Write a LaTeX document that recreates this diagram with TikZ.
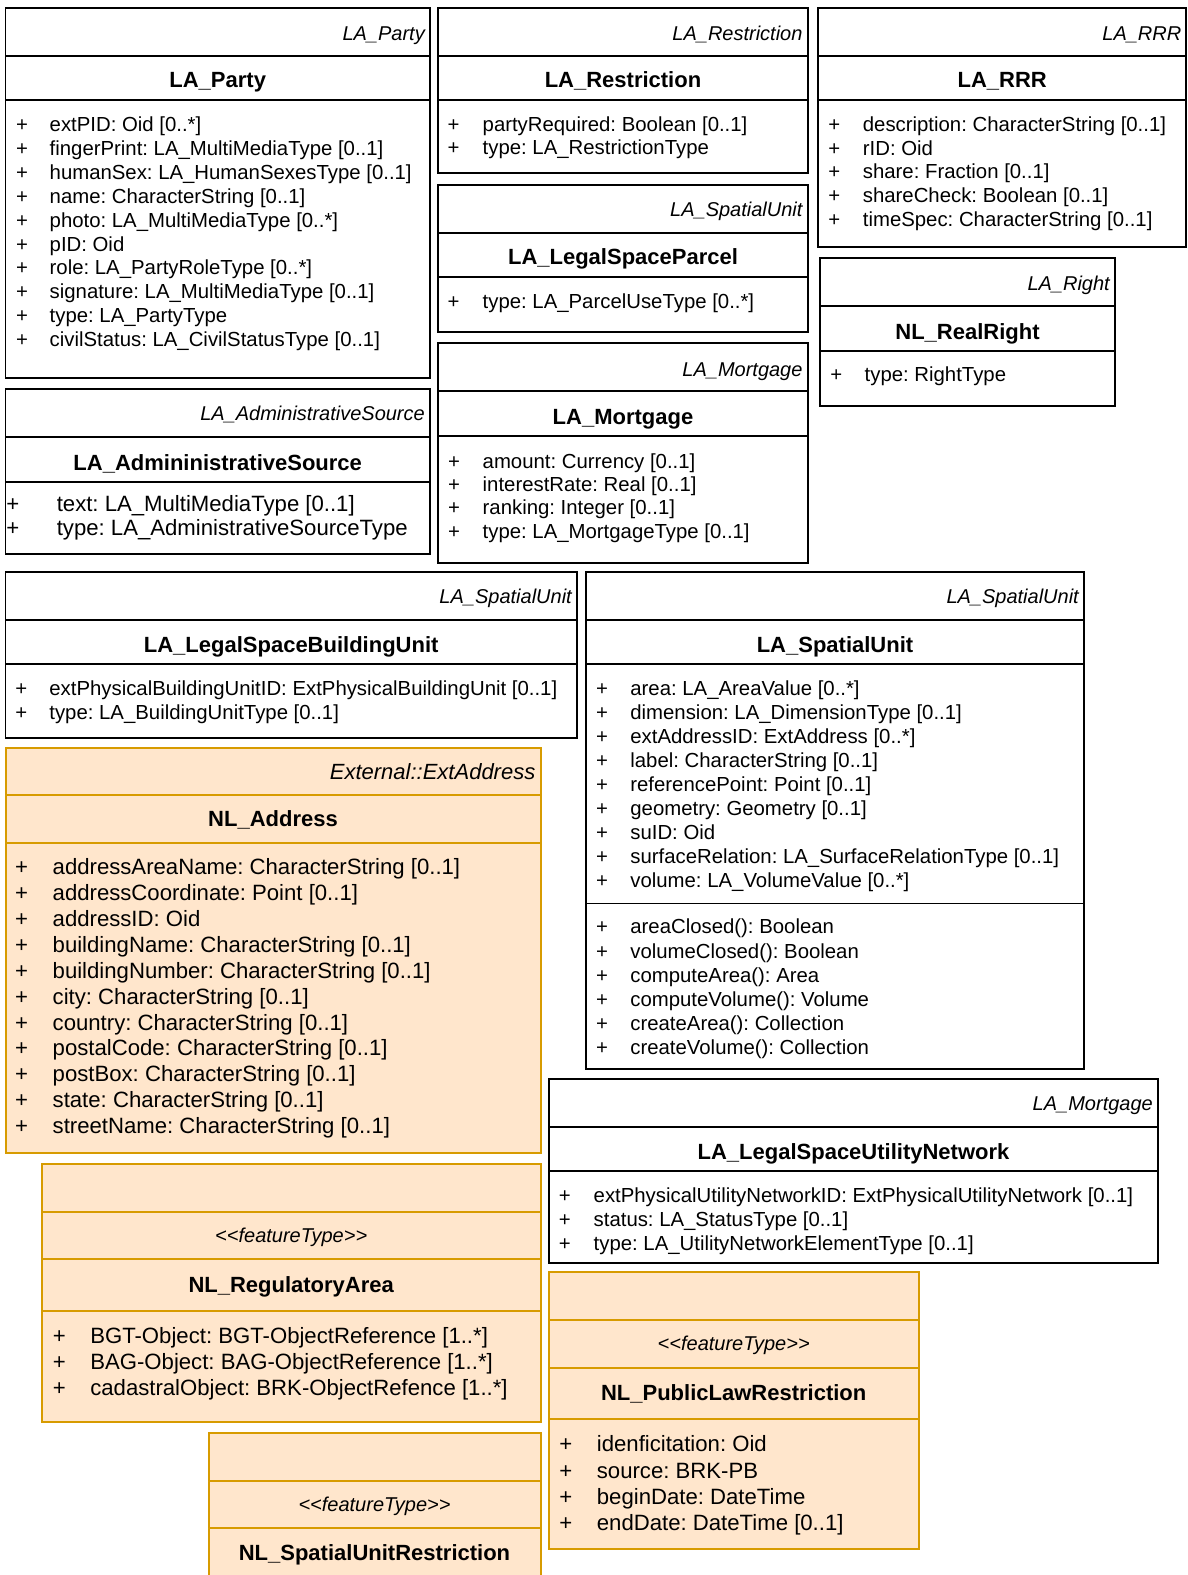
\documentclass[tikz,border=0pt]{standalone}
\usepackage{fontspec}
\setmainfont{Liberation Sans}
\usepackage{array}
\definecolor{umlorange}{HTML}{D79B00}
\definecolor{umlfill}{HTML}{FFE6CC}

% class frame: style, left, right, top, bottom, list of compartment lines
\newcommand{\umlframe}[6]{%
  \draw[#1] (#2,#4) rectangle (#3,#5);
  \foreach \dv in {#6} {\draw[#1] (#2,\dv) -- (#3,\dv);}%
}
% attribute list: width of the "+" column, rows
\newcommand{\plusrows}[2]{\begin{tabular}[t]{@{}>{\makebox[#1][l]{+}}l@{}}#2\end{tabular}}
% stereotype in double angle brackets (kerns keep the brackets apart)
\newcommand{\stereotype}[1]{<\kern0pt<#1>\kern0pt>}

\tikzset{
  blackbox/.style={draw=black, line width=1.7pt},
  orangebox/.style={draw=umlorange, fill=umlfill, line width=2pt},
  hdr/.style={inner sep=0pt, anchor=base east, font=\fontsize{20}{24}\selectfont\itshape},
  hdrL/.style={inner sep=0pt, anchor=base east, font=\fontsize{22}{26}\selectfont\itshape},
  stereo/.style={inner sep=0pt, anchor=base, font=\fontsize{20}{24}\selectfont\itshape},
  cname/.style={inner sep=0pt, anchor=base, font=\fontsize{22}{26}\selectfont\bfseries},
  attr/.style={inner sep=0pt, anchor=base west, font=\fontsize{20.35}{#1}\selectfont\frenchspacing},
  attrL/.style={inner sep=0pt, anchor=base west, font=\fontsize{22.15}{#1}\selectfont\frenchspacing},
}

\begin{document}
\begin{tikzpicture}[x=1pt, y=-1pt]
\useasboundingbox (0,0) rectangle (1187,1575);
\clip (0,0) rectangle (1187,1575);

% ---------- LA_Party ----------
\umlframe{blackbox}{5.5}{430}{8}{378}{56,100}
\node[hdr] (party-st) at (425,40) {LA\_Party};
\node[cname] (party-nm) at (217.7,87.3) {LA\_Party};
\node[attr=23.9] (party-at) at (15.9,131.5) {\plusrows{33.6pt}{%
extPID: Oid [0..*]\\
fingerPrint: LA\_MultiMediaType [0..1]\\
humanSex: LA\_HumanSexesType [0..1]\\
name: CharacterString [0..1]\\
photo: LA\_MultiMediaType [0..*]\\
pID: Oid\\
role: LA\_PartyRoleType [0..*]\\
signature: LA\_MultiMediaType [0..1]\\
type: LA\_PartyType\\
civilStatus: LA\_CivilStatusType [0..1]}};

% ---------- LA_Restriction ----------
\umlframe{blackbox}{438.3}{807.7}{8}{173}{56,100}
\node[hdr] (restr-st) at (802.7,40) {LA\_Restriction};
\node[cname] (restr-nm) at (623,87.3) {LA\_Restriction};
\node[attr=23.4] (restr-at) at (447.5,131.5) {\plusrows{35pt}{%
partyRequired: Boolean [0..1]\\
type: LA\_RestrictionType}};

% ---------- LA_LegalSpaceParcel ----------
\umlframe{blackbox}{438.3}{807.7}{185}{332}{233,277}
\node[hdr] (parcel-st) at (802.7,216.2) {LA\_SpatialUnit};
\node[cname] (parcel-nm) at (623,264) {LA\_LegalSpaceParcel};
\node[attr=23.4] (parcel-at) at (447.5,308.9) {\plusrows{35pt}{%
type: LA\_ParcelUseType [0..*]}};

% ---------- LA_Mortgage ----------
\umlframe{blackbox}{438.3}{807.7}{343.3}{563.3}{391,436}
\node[hdr] (mortg-st) at (802.7,376.5) {LA\_Mortgage};
\node[cname] (mortg-nm) at (623,424.3) {LA\_Mortgage};
\node[attr=23.3] (mortg-at) at (448,468.2) {\plusrows{34.5pt}{%
amount: Currency [0..1]\\
interestRate: Real [0..1]\\
ranking: Integer [0..1]\\
type: LA\_MortgageType [0..1]}};

% ---------- LA_RRR ----------
\umlframe{blackbox}{818.3}{1186}{8}{247.3}{56,100}
\node[hdr] (rrr-st) at (1181.5,40) {LA\_RRR};
\node[cname] (rrr-nm) at (1002.2,87.3) {LA\_RRR};
\node[attr=23.7] (rrr-at) at (828.2,131.5) {\plusrows{34.5pt}{%
description: CharacterString [0..1]\\
rID: Oid\\
share: Fraction [0..1]\\
shareCheck: Boolean [0..1]\\
timeSpec: CharacterString [0..1]}};

% ---------- NL_RealRight ----------
\umlframe{blackbox}{820}{1115}{258.3}{406}{305.7,350.7}
\node[hdr] (right-st) at (1110,290.7) {LA\_Right};
\node[cname] (right-nm) at (967.5,339) {NL\_RealRight};
\node[attr=23.7] (right-at) at (830.2,381.2) {\plusrows{34.3pt}{%
type: RightType}};

% ---------- LA_AdmininistrativeSource ----------
\umlframe{blackbox}{5.5}{430}{389.3}{554}{437.3,481.7}
\node[hdr] (admin-st) at (425,420.7) {LA\_AdministrativeSource};
\node[cname] (admin-nm) at (217.7,470) {LA\_AdmininistrativeSource};
\node[attrL=24.5] (admin-at) at (6.1,511) {\plusrows{50.5pt}{%
text: LA\_MultiMediaType [0..1]\\
type: LA\_AdministrativeSourceType}};

% ---------- LA_LegalSpaceBuildingUnit ----------
\umlframe{blackbox}{5.5}{577}{572}{738}{620,664}
\node[hdr] (bunit-st) at (572,603.3) {LA\_SpatialUnit};
\node[cname] (bunit-nm) at (291.2,652.3) {LA\_LegalSpaceBuildingUnit};
\node[attr=24] (bunit-at) at (15.2,695.2) {\plusrows{34pt}{%
extPhysicalBuildingUnitID: ExtPhysicalBuildingUnit [0..1]\\
type: LA\_BuildingUnitType [0..1]}};

% ---------- LA_SpatialUnit ----------
\umlframe{blackbox}{586}{1084}{572.3}{1069}{620,664,903.5}
\node[hdr] (spunit-st) at (1079,603.3) {LA\_SpatialUnit};
\node[cname] (spunit-nm) at (835,652.3) {LA\_SpatialUnit};
\node[attr=23.96] (spunit-at) at (595.9,695.5) {\plusrows{34.3pt}{%
area: LA\_AreaValue [0..*]\\
dimension: LA\_DimensionType [0..1]\\
extAddressID: ExtAddress [0..*]\\
label: CharacterString [0..1]\\
referencePoint: Point [0..1]\\
geometry: Geometry [0..1]\\
suID: Oid\\
surfaceRelation: LA\_SurfaceRelationType [0..1]\\
volume: LA\_VolumeValue [0..*]}};
\node[attr=24.1] (spunit-op) at (595.9,933.9) {\plusrows{34.3pt}{%
areaClosed(): Boolean\\
volumeClosed(): Boolean\\
computeArea(): Area\\
computeVolume(): Volume\\
createArea(): Collection\\
createVolume(): Collection}};

% ---------- NL_Address ----------
\umlframe{orangebox}{5.5}{540.5}{747.5}{1153}{795,842.5}
\node[hdrL] (addr-st) at (535.5,779.3) {External::ExtAddress};
\node[cname] (addr-nm) at (273,826.7) {NL\_Address};
\node[attrL=25.9] (addr-at) at (15,874.6) {\plusrows{37.5pt}{%
addressAreaName: CharacterString [0..1]\\
addressCoordinate: Point [0..1]\\
addressID: Oid\\
buildingName: CharacterString [0..1]\\
buildingNumber: CharacterString [0..1]\\
city: CharacterString [0..1]\\
country: CharacterString [0..1]\\
postalCode: CharacterString [0..1]\\
postBox: CharacterString [0..1]\\
state: CharacterString [0..1]\\
streetName: CharacterString [0..1]}};

% ---------- NL_RegulatoryArea ----------
\umlframe{orangebox}{42}{540.5}{1164}{1421.5}{1211.5,1259,1311}
\node[stereo] (regul-st) at (291.2,1242) {\stereotype{featureType}};
\node[cname] (regul-nm) at (291.2,1292) {NL\_RegulatoryArea};
\node[attrL=25.7] (regul-at) at (52.6,1343.9) {\plusrows{37.5pt}{%
BGT-Object: BGT-ObjectReference [1..*]\\
BAG-Object: BAG-ObjectReference [1..*]\\
cadastralObject: BRK-ObjectRefence [1..*]}};

% ---------- NL_SpatialUnitRestriction ----------
\umlframe{orangebox}{208.5}{540.5}{1433.3}{1620}{1481,1528.3}
\node[stereo] (surestr-st) at (374.5,1511) {\stereotype{featureType}};
\node[cname] (surestr-nm) at (374.5,1560.7) {NL\_SpatialUnitRestriction};

% ---------- LA_LegalSpaceUtilityNetwork ----------
\umlframe{blackbox}{549}{1158}{1079}{1263}{1127,1171}
\node[hdr] (unet-st) at (1153,1110) {LA\_Mortgage};
\node[cname] (unet-nm) at (853.5,1159.3) {LA\_LegalSpaceUtilityNetwork};
\node[attr=23.9] (unet-at) at (558.7,1202.2) {\plusrows{34.8pt}{%
extPhysicalUtilityNetworkID: ExtPhysicalUtilityNetwork [0..1]\\
status: LA\_StatusType [0..1]\\
type: LA\_UtilityNetworkElementType [0..1]}};

% ---------- NL_PublicLawRestriction ----------
\umlframe{orangebox}{549}{918.5}{1272.3}{1549}{1320,1367.7,1419.3}
\node[stereo] (plr-st) at (733.7,1350.7) {\stereotype{featureType}};
\node[cname] (plr-nm) at (733.7,1400.7) {NL\_PublicLawRestriction};
\node[attrL=26.1] (plr-at) at (559.2,1451.9) {\plusrows{37.5pt}{%
idenficitation: Oid\\
source: BRK-PB\\
beginDate: DateTime\\
endDate: DateTime [0..1]}};
\end{tikzpicture}
\end{document}
